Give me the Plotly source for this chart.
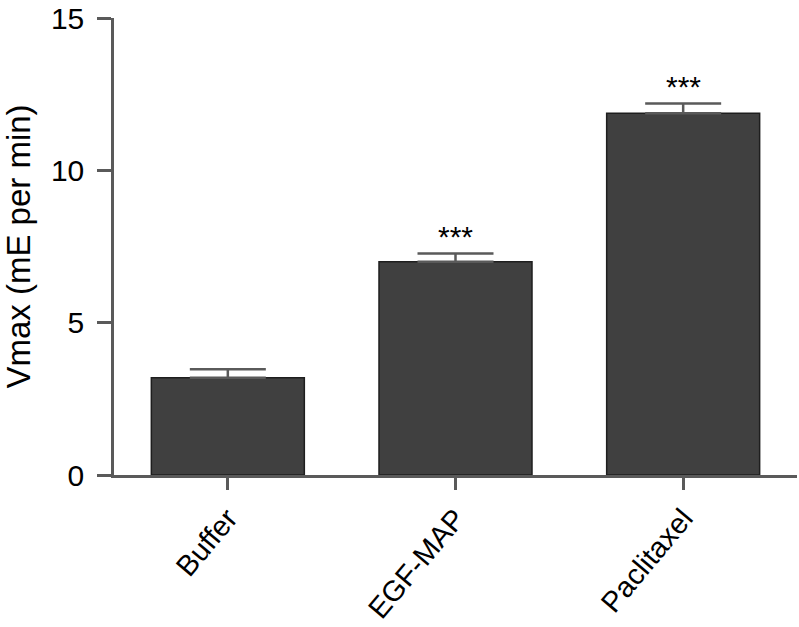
import plotly.graph_objects as go

categories = ["Buffer", "EGF-MAP", "Paclitaxel"]
values = [3.19, 7.0, 11.87]
errors = [0.28, 0.27, 0.32]
significance = ["", "***", "***"]
y_ticks = [0, 5, 10, 15]

FONT = "Liberation Sans, Arial, Helvetica, sans-serif"
AXIS_COLOR = "#5a5a5a"

fig = go.Figure()
fig.add_trace(go.Bar(
    x=categories,
    y=values,
    width=0.672,
    marker=dict(color="#404040", line=dict(color="#1e1e1e", width=1.5)),
    error_y=dict(type="data", symmetric=False, array=errors,
                 arrayminus=[0] * len(errors),
                 color=AXIS_COLOR, thickness=2.5, width=38),
    showlegend=False,
))

for c, v, e, s in zip(categories, values, errors, significance):
    if s:
        fig.add_annotation(x=c, y=v + e, text=s, showarrow=False,
                           yanchor="bottom", yshift=-1,
                           font=dict(family=FONT, size=30, color="black"))

fig.update_layout(
    width=799, height=627,
    margin=dict(l=114, r=2, t=18, b=152),
    paper_bgcolor="white", plot_bgcolor="white",
    font=dict(family=FONT, color="black"),
    bargap=0.328,
)
fig.update_xaxes(
    range=[-0.5, 2.5], showline=True, linecolor=AXIS_COLOR, linewidth=2.5,
    ticks="outside", ticklen=12, tickwidth=2.5, tickcolor=AXIS_COLOR,
    tickangle=-50, tickfont=dict(family=FONT, size=29, color="black"),
    ticklabelstandoff=0,
    showgrid=False, zeroline=False, automargin=False,
)
fig.update_yaxes(
    range=[0, 15], tickvals=y_ticks, ticktext=[str(t) for t in y_ticks],
    showline=True, linecolor=AXIS_COLOR, linewidth=2.5,
    ticks="outside", ticklen=14, tickwidth=2.5, tickcolor=AXIS_COLOR,
    tickfont=dict(family=FONT, size=30, color="black"),
    ticklabelstandoff=7,
    title=dict(text="Vmax (mE per min)", font=dict(family=FONT, size=33, color="black"), standoff=23),
    showgrid=False, zeroline=False, automargin=False,
)

# remove the default 8px page margin so the figure fills the window exactly
fig.write_html(
    "out.html",
    config={"displayModeBar": False},
    post_script="document.body.style.margin='0';document.body.style.overflow='hidden';",
)
